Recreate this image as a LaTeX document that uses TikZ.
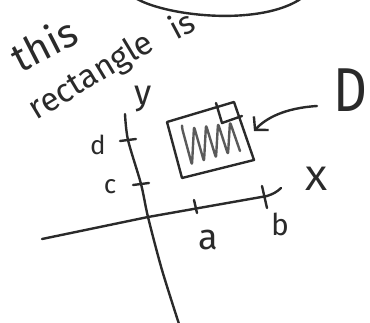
\documentclass[tikz,border=0pt]{standalone}
\usepackage{fontspec}
\setmainfont{Fira Sans}
\usetikzlibrary{arrows.meta}
\definecolor{ink}{HTML}{2A2A2A}
\definecolor{hatch}{HTML}{5A5A5A}
\begin{document}
\begin{tikzpicture}[x=1pt,y=-1pt,
  pen/.style={draw=ink,line width=2.4pt,line cap=round,line join=round},
  hatchpen/.style={draw=hatch,line width=2.4pt,line cap=round,line join=round,rounded corners=2.5pt},
  lbl/.style={text=ink,inner sep=0pt,font=\fontsize{#1}{#1}\selectfont},
]
\useasboundingbox (0,0) rectangle (370,322);
% arc at top
\coordinate (arcL) at (137,-1);
\coordinate (arcR) at (302,-2);
\draw[pen] (arcL) .. controls (170,17) and (262,26) .. (arcR);
% handwritten text
\node[lbl=40,rotate=27] (this) at (44,44) {this};
\node[lbl=33,rotate=31] (rect) at (92,77) {rectangle};
\node[lbl=32,rotate=28] (is) at (181,24) {is};
\node[lbl=35] (ylab) at (143,99) {y};
% axes
\coordinate (yt) at (125,114);
\coordinate (yb) at (179,324);
\coordinate (o) at (148,217);
\coordinate (xl) at (42,239);
\coordinate (xr) at (281,188);
\draw[pen] plot[smooth] coordinates {(yt) (128,140) (141,184) (o) (162,270) (yb)};
\draw[pen] (xl) -- (o) -- (267,196) .. controls (273,194) and (277,192) .. (xr);
% ticks
\coordinate (td1) at (120,141); \coordinate (td2) at (136,139);
\coordinate (tc1) at (133,185); \coordinate (tc2) at (149,183);
\coordinate (ta1) at (194,200); \coordinate (ta2) at (197,213);
\coordinate (tb1) at (262,186); \coordinate (tb2) at (267,208);
\draw[pen] (td1) -- (td2);
\draw[pen] (tc1) -- (tc2);
\draw[pen] (ta1) -- (ta2);
\draw[pen] (tb1) -- (tb2);
% axis labels
\node[lbl=36] (la) at (208,240) {a};
\node[lbl=30] (lb) at (280,224) {b};
\node[lbl=26] (lc) at (110,187) {c};
\node[lbl=26] (ld) at (98,145) {d};
\node[lbl=34,xscale=1.2] (lx) at (317,179) {X};
% rectangle D
\coordinate (r1) at (167,122);
\coordinate (r2) at (234,102);
\coordinate (r3) at (254,160);
\coordinate (r4) at (182,178);
\draw[pen] (r1) -- (r2) -- (r3) -- (r4) -- cycle;
\coordinate (s1) at (216,103);
\coordinate (s2) at (222,123);
\coordinate (s3) at (242,116);
\draw[pen] (s1) -- (s2) -- (s3);
\draw[hatchpen] (182,128) foreach \i in {0,...,4} { -- ({182+12*\i},{128-1.5*\i}) -- ({192+12*\i},{165-3.5*\i}) };
% label D with arrow
\node[lbl=62,xscale=0.85] (D) at (350,90) {D};
\coordinate (atail) at (317,106);
\coordinate (atip) at (254,131);
\draw[pen,-{Straight Barb[length=9pt,width=20pt]}] (atail) .. controls (285,108) and (266,118) .. (atip);
\end{tikzpicture}
\end{document}
